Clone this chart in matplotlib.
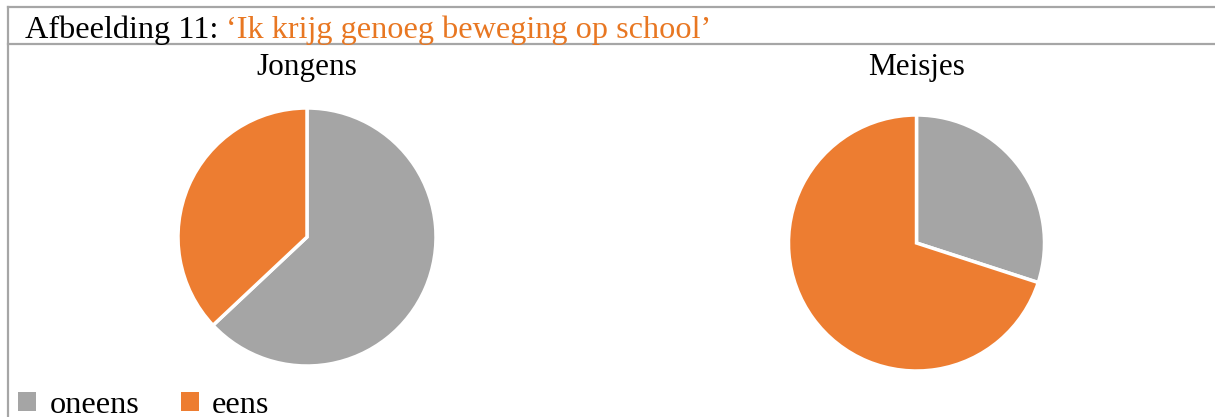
import matplotlib.pyplot as plt
from matplotlib.patches import Patch
from matplotlib.lines import Line2D
from matplotlib.text import Annotation

# data
categories = [ 'oneens', 'eens' ]
jongens = [ 63, 37 ]
meisjes = [ 30, 70 ]
colors = [ '#A5A5A5', '#ED7D31' ]

W, H = 1215, 417
plt.rcParams['font.family'] = [ 'Liberation Serif', 'DejaVu Serif' ]

fig = plt.figure( figsize = ( W / 100, H / 100 ), dpi = 100 )

def px_axes( cx, cy, r ):
	# square axes from pixel centre and radius (y measured from top)
	return fig.add_axes( [ ( cx - r ) / W, ( H - cy - r ) / H, 2 * r / W, 2 * r / H ] )

# frame lines
line_col = '#A6A6A6'
fig.add_artist( Line2D( [ 8 / W, 1 ], [ 1 - 7 / H, 1 - 7 / H ], color = line_col, lw = 1.6 ) )
fig.add_artist( Line2D( [ 8 / W, 1 ], [ 1 - 44 / H, 1 - 44 / H ], color = line_col, lw = 1.6 ) )
fig.add_artist( Line2D( [ 8 / W, 8 / W ], [ 0, 1 - 7 / H ], color = line_col, lw = 1.6 ) )

# title, second part in orange right after the first
t1 = fig.text( 25 / W, 1 - 38 / H, 'Afbeelding 11: ', fontsize = 23.2, va = 'baseline', ha = 'left' )
t2 = Annotation( '\u2018Ik krijg genoeg beweging op school\u2019', xy = ( 1, 0 ), xycoords = t1,
	fontsize = 23.2, va = 'bottom', ha = 'left', color = '#E87722', annotation_clip = False )
fig.add_artist( t2 )

for data, name, cx, cy, r in [ ( jongens, 'Jongens', 307, 237, 129 ), ( meisjes, 'Meisjes', 916.5, 243, 128 ) ]:
	ax = px_axes( cx, cy, r )
	ax.pie( data, colors = colors, startangle = 90, counterclock = False,
		wedgeprops = { 'edgecolor': 'white', 'linewidth': 2.5 } )
	ax.set_xlim( -1, 1 )
	ax.set_ylim( -1, 1 )
	ax.axis( 'off' )
	fig.text( cx / W, 1 - 68 / H, name, fontsize = 22.5, ha = 'center', va = 'center' )

handles = [ Patch( facecolor = c ) for c in colors ]
fig.legend( handles, categories, ncol = 2, frameon = False, loc = 'lower left',
	bbox_to_anchor = ( -11 / W, -32 / H ), fontsize = 23.2, handlelength = 0.55, handleheight = 0.55,
	handletextpad = 0.42, columnspacing = 1.3 )

fig.savefig( 'out.png', dpi = 100 )
